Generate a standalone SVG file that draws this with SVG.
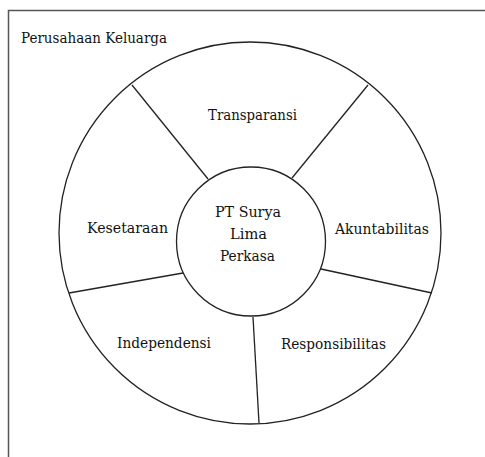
<svg xmlns="http://www.w3.org/2000/svg" width="485" height="457" viewBox="0 0 485 457">
  <style>
    .frame { fill: none; stroke: #555; stroke-width: 1.5; }
    .ring { fill: #fff; stroke: #222; stroke-width: 1.3; }
    .spoke { fill: none; stroke: #222; stroke-width: 1.3; }
    .lbl { font-family: 'DejaVu Serif', 'Liberation Serif', serif; font-size: 15px; fill: #111; }
    .c { text-anchor: middle; }
  </style>
  <rect width="485" height="457" fill="#fff"/>

  <!-- outer frame: only left and top edges fall inside the canvas -->
  <path class="frame" d="M8.5,457 V10.5 H485"/>

  <g id="title">
    <text class="lbl" x="21" y="43" textLength="146" lengthAdjust="spacingAndGlyphs">Perusahaan Keluarga</text>
  </g>

  <g id="outer-ring">
    <circle class="ring" cx="250" cy="233" r="191"/>
  </g>

  <g id="connectors">
    <line class="spoke" x1="132" y1="85" x2="208" y2="179"/>
    <line class="spoke" x1="368" y1="85" x2="292" y2="178"/>
    <line class="spoke" x1="321" y1="269" x2="432" y2="293"/>
    <line class="spoke" x1="253" y1="317" x2="259" y2="423"/>
    <line class="spoke" x1="69" y1="293" x2="183" y2="273"/>
  </g>

  <g id="core">
    <circle class="ring" cx="251" cy="241.5" r="74.5"/>
    <text class="lbl c" x="248" y="217" textLength="66" lengthAdjust="spacingAndGlyphs">PT Surya</text>
    <text class="lbl c" x="248.5" y="239" textLength="37" lengthAdjust="spacingAndGlyphs">Lima</text>
    <text class="lbl c" x="247.5" y="261" textLength="55" lengthAdjust="spacingAndGlyphs">Perkasa</text>
  </g>

  <g id="transparansi">
    <text class="lbl c" x="252.5" y="120" textLength="89" lengthAdjust="spacingAndGlyphs">Transparansi</text>
  </g>
  <g id="akuntabilitas">
    <text class="lbl c" x="382" y="234" textLength="94" lengthAdjust="spacingAndGlyphs">Akuntabilitas</text>
  </g>
  <g id="responsibilitas">
    <text class="lbl c" x="333.5" y="349" textLength="105" lengthAdjust="spacingAndGlyphs">Responsibilitas</text>
  </g>
  <g id="independensi">
    <text class="lbl c" x="164" y="348" textLength="94" lengthAdjust="spacingAndGlyphs">Independensi</text>
  </g>
  <g id="kesetaraan">
    <text class="lbl c" x="127.5" y="233" textLength="81" lengthAdjust="spacingAndGlyphs">Kesetaraan</text>
  </g>
</svg>
